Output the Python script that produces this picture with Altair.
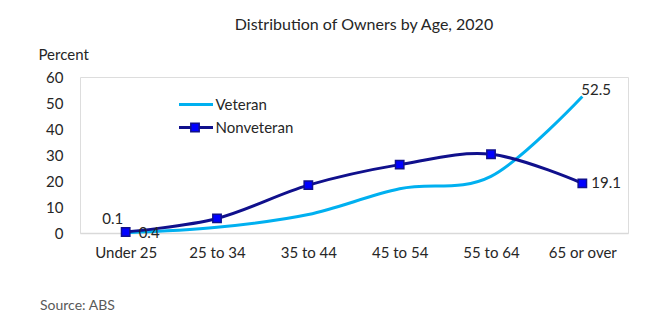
import altair as alt
import pandas as pd

# ---- data ----
ages = ["Under 25", "25 to 34", "35 to 44", "45 to 54", "55 to 64", "65 or over"]
veteran = [0.1, 2.2, 7.1, 17.0, 21.8, 52.5]
nonveteran = [0.4, 5.6, 18.4, 26.3, 30.3, 19.1]
y_ticks = [0, 10, 20, 30, 40, 50, 60]
series_names = ["Veteran", "Nonveteran"]
series_colors = ["#00B0F0", "#10108C"]
marker_fill = "#0000FF"

FONT = "Lato"
TEXT = "#262626"

df = pd.DataFrame({
    "age": ages * 2,
    "value": veteran + nonveteran,
    "series": ["Veteran"] * len(ages) + ["Nonveteran"] * len(ages),
})

x = alt.X(
    "age:N", sort=ages,
    scale=alt.Scale(type="point", padding=0.5),
    axis=alt.Axis(title=None, labelAngle=0, ticks=False, domainColor="#d9d9d9",
                  domainWidth=1.5, labelFontSize=15, labelPadding=12,
                  labelColor=TEXT, labelFont=FONT, grid=False),
)
y = alt.Y(
    "value:Q",
    scale=alt.Scale(domain=[0, 60]),
    axis=alt.Axis(values=y_ticks, title="Percent", titleAngle=0, titleX=-42, titleY=-18,
                  titleAlign="left", titleBaseline="alphabetic", titleFontSize=15,
                  titleFontWeight="normal", titleColor=TEXT, titleFont=FONT,
                  domain=False, ticks=False, grid=False, labelPadding=17,
                  labelFontSize=15, labelColor=TEXT, labelFont=FONT),
)
color = alt.Color("series:N", scale=alt.Scale(domain=series_names, range=series_colors), legend=None)

base = alt.Chart(df)

lines = base.mark_line(interpolate="cardinal", strokeWidth=3).encode(x=x, y=y, color=color)

points = base.transform_filter(alt.datum.series == "Nonveteran").mark_point(
    shape="square", filled=True, fill=marker_fill, stroke="#10108C", strokeWidth=1.5,
    size=70, opacity=1
).encode(x=x, y=y)


def label(series, age, dx, dy, align="center"):
    return base.transform_filter(
        (alt.datum.series == series) & (alt.datum.age == age)
    ).mark_text(dx=dx, dy=dy, align=align, baseline="middle", fontSize=15,
                font=FONT, color=TEXT).encode(x=x, y=y, text=alt.Text("value:Q", format=".1f"))


labels = (
    label("Veteran", "Under 25", -13, -14)
    + label("Nonveteran", "Under 25", 13, 1, "left")
    + label("Veteran", "65 or over", -1, -7, "left")
    + label("Nonveteran", "65 or over", 9, 0, "left")
)

# ---- custom legend ----
leg_df = pd.DataFrame({"series": series_names})
leg_vet_line = alt.Chart(leg_df).transform_filter(alt.datum.series == "Veteran").mark_rule(
    color=series_colors[0], strokeWidth=3
).encode(x=alt.value(99), x2=alt.value(133), y=alt.value(27.5))
leg_non_line = alt.Chart(leg_df).transform_filter(alt.datum.series == "Nonveteran").mark_rule(
    color=series_colors[1], strokeWidth=3
).encode(x=alt.value(99), x2=alt.value(133), y=alt.value(50.5))
leg_non_pt = alt.Chart(leg_df).transform_filter(alt.datum.series == "Nonveteran").mark_point(
    shape="square", filled=True, fill=marker_fill, stroke="#10108C", strokeWidth=1.5, size=70, opacity=1
).encode(x=alt.value(115), y=alt.value(50.5))
leg_vet_txt = alt.Chart(leg_df).transform_filter(alt.datum.series == "Veteran").mark_text(
    align="left", baseline="middle", fontSize=15, font=FONT, color=TEXT
).encode(x=alt.value(135.5), y=alt.value(27.5), text="series:N")
leg_non_txt = alt.Chart(leg_df).transform_filter(alt.datum.series == "Nonveteran").mark_text(
    align="left", baseline="middle", fontSize=15, font=FONT, color=TEXT
).encode(x=alt.value(135.5), y=alt.value(50.5), text="series:N")

src_df = pd.DataFrame({"t": ["Source: ABS"]})
source = alt.Chart(src_df).mark_text(
    align="left", baseline="alphabetic", fontSize=14, font=FONT, color="#595959"
).encode(x=alt.value(-40), y=alt.value(233), text="t:N")

chart = alt.layer(
    lines, points, labels, leg_vet_line, leg_non_line, leg_non_pt, leg_vet_txt, leg_non_txt, source
).properties(
    width=548, height=156,
    title=alt.TitleParams("Distribution of Owners by Age, 2020", anchor="middle", dx=10,
                          offset=14, fontSize=16, fontWeight="normal", font=FONT, color=TEXT),
    padding={"left": 80, "top": 77, "right": 33, "bottom": 89},
    autosize=alt.AutoSizeParams(type="none"),
).configure_view(stroke=None).configure(background="white")

chart.save("out.html", embed_options={"renderer": "svg", "actions": False})
